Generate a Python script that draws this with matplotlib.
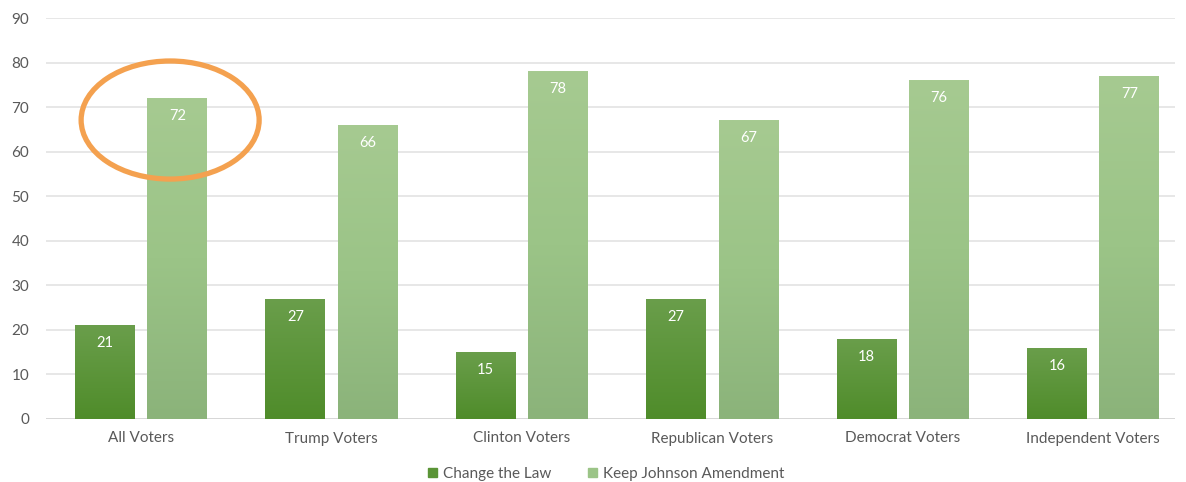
import matplotlib
matplotlib.use('Agg')
import matplotlib.pyplot as plt
from matplotlib.colors import LinearSegmentedColormap
from matplotlib.patches import Ellipse
import numpy as np

categories = ['All Voters', 'Trump Voters', 'Clinton Voters', 'Republican Voters',
              'Democrat Voters', 'Independent Voters']
change_law = [21, 27, 15, 27, 18, 16]
keep_johnson = [72, 66, 78, 67, 76, 77]
series_names = ['Change the Law', 'Keep Johnson Amendment']

plt.rcParams['font.family'] = ['Lato', 'DejaVu Sans']

dark_cmap = LinearSegmentedColormap.from_list('dark', ['#4f8c2a', '#6a9e4b'])
light_cmap = LinearSegmentedColormap.from_list('light', ['#8bb37a', '#9bc487', '#a6ca91'])

fig = plt.figure(figsize=(11.86, 4.82), dpi=100)
ax = fig.add_axes([46 / 1186, 1 - 419 / 482, (1175 - 46) / 1186, (419 - 18) / 482])

x = np.arange(len(categories))
w = 0.315
off = 0.19
b1 = ax.bar(x - off, change_law, w, color='#5e9639', label=series_names[0], zorder=2)
b2 = ax.bar(x + off, keep_johnson, w, color='#9bc487', label=series_names[1], zorder=2)

# gradient fill over each bar
grad = np.linspace(0, 1, 256).reshape(-1, 1)
for bars, cmap in ((b1, dark_cmap), (b2, light_cmap)):
    for p in bars:
        x0, y0 = p.get_x(), p.get_y()
        im = ax.imshow(grad, cmap=cmap, origin='lower', aspect='auto',
                       extent=[x0, x0 + p.get_width(), y0, y0 + p.get_height()], zorder=3)
        im.set_clip_path(p)

for bars, vals in ((b1, change_law), (b2, keep_johnson)):
    for p, v in zip(bars, vals):
        ax.annotate(str(v), (p.get_x() + p.get_width() / 2, p.get_height()),
                    xytext=(0, -18), textcoords='offset pixels', ha='center', va='center',
                    color='white', fontsize=10.5, zorder=4)

ax.set_xlim(-0.5, 5.43)
ax.set_ylim(0, 90)
ax.set_yticks(range(0, 91, 10))
ax.set_xticks(x)
ax.set_xticklabels(categories)
ax.tick_params(axis='both', length=0, labelsize=11, colors='#595959')
ax.tick_params(axis='x', pad=9)
ax.tick_params(axis='y', pad=12)
ax.grid(axis='y', color='#e3e3e3', linewidth=1.2, zorder=0)
ax.set_axisbelow(True)
for s in ax.spines.values():
    s.set_visible(False)
ax.axhline(0, color='#d4d4d4', linewidth=1.2, zorder=1)

ell = Ellipse((0.152, 67.1), 0.935, 26.5, fill=False, edgecolor='#f4a14f',
              linewidth=3.8, zorder=5, clip_on=False)
ax.add_patch(ell)

h, l = ax.get_legend_handles_labels()
h = [plt.Rectangle((0, 0), 1, 1, color=c) for c in ('#5a9436', '#9bc487')]
fig.legend(h, l, loc='center', bbox_to_anchor=(606 / 1186, 1 - 474 / 482), ncol=2,
           frameon=False, fontsize=11, handlelength=0.6, handleheight=0.6,
           handletextpad=0.4, columnspacing=2.4, labelcolor='#595959')

fig.savefig('out.png', dpi=100)
